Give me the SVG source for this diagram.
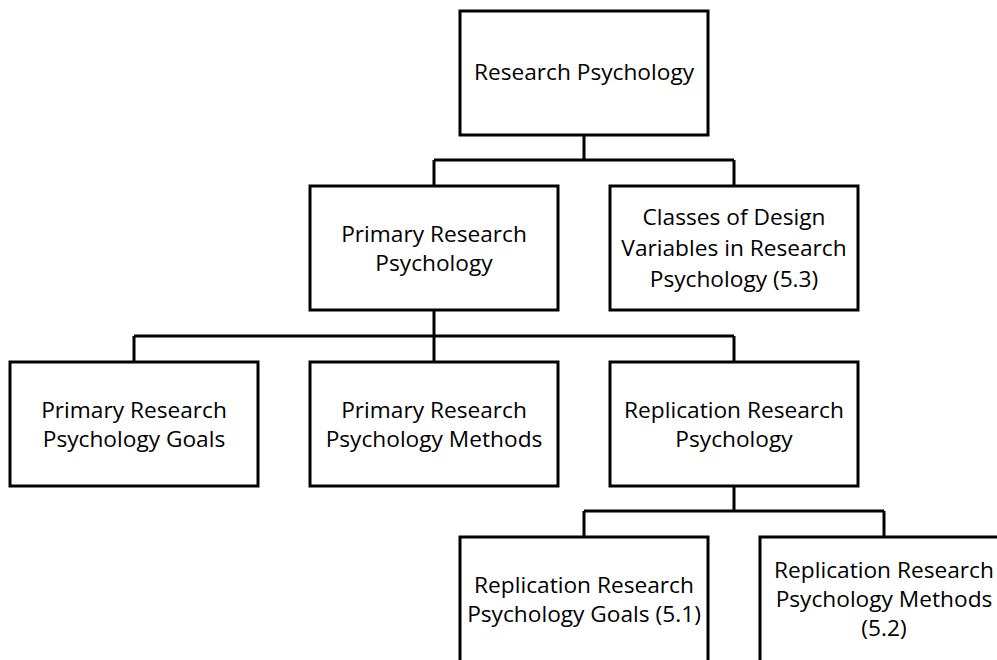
<svg xmlns="http://www.w3.org/2000/svg" width="997" height="660" viewBox="0 0 997 660">
<style>
.box{fill:#fff;stroke:#000;stroke-width:3}
.lbl{font-family:"Open Sans","Noto Sans",sans-serif;font-size:22.7px;fill:#000;text-anchor:middle}
.con{fill:none;stroke:#000;stroke-width:3}
</style>
<rect width="997" height="660" fill="#fff"/>
<g id="connectors">
<path class="con" d="M584 135V160M434 160H734M434 160V186M734 160V186"/>
<path class="con" d="M434 310V336M134 336H734M134 336V362M434 336V362M734 336V362"/>
<path class="con" d="M734 486V511M584 511H884M584 511V537M884 511V537"/>
</g>
<g id="n_root"><rect class="box" x="460" y="11" width="248" height="124"/><text class="lbl" x="584" y="80">Research Psychology</text></g>
<g id="n_primary"><rect class="box" x="310" y="186" width="248" height="124"/><text class="lbl" x="434" y="242">Primary Research</text><text class="lbl" x="434" y="271">Psychology</text></g>
<g id="n_classes"><rect class="box" x="610" y="186" width="248" height="124"/><text class="lbl" x="734" y="225">Classes of Design</text><text class="lbl" x="734" y="256">Variables in Research</text><text class="lbl" x="734" y="287">Psychology (5.3)</text></g>
<g id="n_pgoals"><rect class="box" x="10" y="362" width="248" height="124"/><text class="lbl" x="134" y="418">Primary Research</text><text class="lbl" x="134" y="447">Psychology Goals</text></g>
<g id="n_pmethods"><rect class="box" x="310" y="362" width="248" height="124"/><text class="lbl" x="434" y="418">Primary Research</text><text class="lbl" x="434" y="447">Psychology Methods</text></g>
<g id="n_replication"><rect class="box" x="610" y="362" width="248" height="124"/><text class="lbl" x="734" y="418">Replication Research</text><text class="lbl" x="734" y="447">Psychology</text></g>
<g id="n_rgoals"><rect class="box" x="460" y="537" width="248" height="130"/><text class="lbl" x="584" y="593">Replication Research</text><text class="lbl" x="584" y="622">Psychology Goals (5.1)</text></g>
<g id="n_rmethods"><rect class="box" x="760" y="537" width="248" height="130"/><text class="lbl" x="884" y="578">Replication Research</text><text class="lbl" x="884" y="607">Psychology Methods</text><text class="lbl" x="884" y="636">(5.2)</text></g>
</svg>
